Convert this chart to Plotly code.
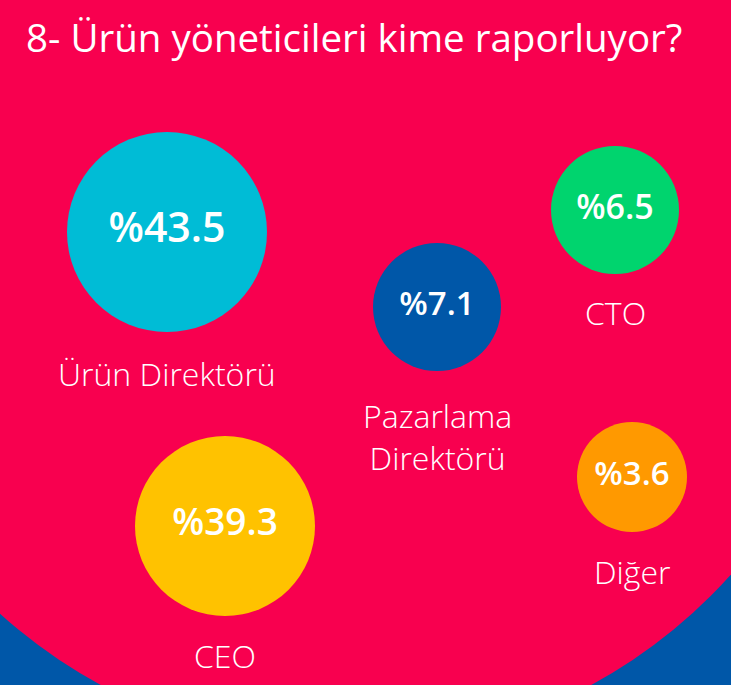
import plotly.graph_objects as go

# Survey answers: who do product managers report to
categories = ['Ürün Direktörü', 'Pazarlama<br>Direktörü', 'CTO', 'CEO', 'Diğer']
shares = [43.5, 7.1, 6.5, 39.3, 3.6]
value_labels = [f'%{v}' for v in shares]
colors = ['#00BCD6', '#0057A8', '#00D46E', '#FFC200', '#FF9900']

# Layout of the bubbles in pixel space (page is 731 x 685)
bubble_x = [167, 437, 615, 225, 632]
bubble_y = [232, 307, 210, 526, 477]
bubble_d = [200, 128, 128, 180, 110]
value_size = [41, 33, 34, 37, 33]
label_y = [373, 436, 312, 655, 571]

PINK = '#F8004F'
BLUE = '#0057A8'
FONT = 'Open Sans'

fig = go.Figure()

# Bubbles with the percentage inside
fig.add_trace(go.Scatter(
    x=bubble_x, y=bubble_y, mode='markers+text',
    marker=dict(size=bubble_d, color=colors, line=dict(width=0), opacity=1),
    text=value_labels, textposition='middle center',
    textfont=dict(family=FONT, size=value_size, color='white', weight=600),
    hoverinfo='skip'))

# Category labels below the bubbles
for cat, x, y in zip(categories, bubble_x, label_y):
    fig.add_annotation(
        x=x, y=y, text=cat, showarrow=False, xanchor='center', yanchor='middle',
        font=dict(family=FONT, size=32, color='white', weight=300),
        align='center')

# Big pink disc over the blue background
cx, cy, r = 346, 231, 516
fig.add_shape(type='circle', xref='x', yref='y', layer='below',
              x0=cx - r, x1=cx + r, y0=cy - r, y1=cy + r,
              fillcolor=PINK, line=dict(width=0))

fig.add_annotation(
    x=24, y=37, xref='x', yref='y', text='8- Ürün yöneticileri kime raporluyor?',
    showarrow=False, xanchor='left', yanchor='middle',
    font=dict(family=FONT, size=38.5, color='white'))

fig.update_xaxes(range=[0, 731], visible=False, fixedrange=True)
fig.update_yaxes(range=[685, 0], visible=False, fixedrange=True)
fig.update_layout(
    width=731, height=685, margin=dict(l=0, r=0, t=0, b=0),
    paper_bgcolor=BLUE, plot_bgcolor=BLUE, showlegend=False)

fig.write_html('out.html', config={'displayModeBar': False},
               post_script="document.body.style.margin='0';")
